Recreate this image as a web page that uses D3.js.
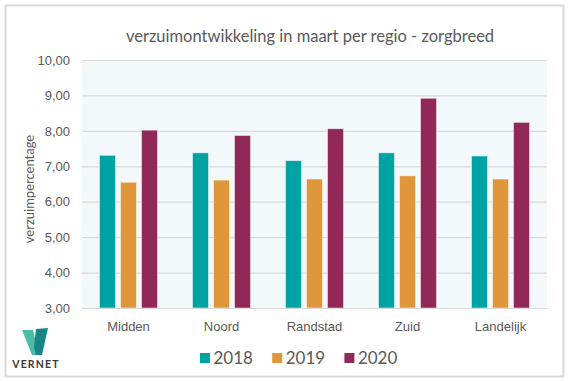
<!DOCTYPE html>
<html>
<head>
<meta charset="utf-8">
<script src="https://cdn.jsdelivr.net/npm/d3@7"></script>
<style>
  html, body { margin: 0; padding: 0; background: #fff; }
  svg { display: block; font-family: Lato, "Open Sans", "Liberation Sans", sans-serif; }
</style>
</head>
<body>
<svg id="chart" width="570" height="381"></svg>
<script>
const title = "verzuimontwikkeling in maart per regio - zorgbreed";
const yTitle = "verzuimpercentage";
const regions = ["Midden", "Noord", "Randstad", "Zuid", "Landelijk"];
const years = ["2018", "2019", "2020"];
const values2018 = [7.31, 7.38, 7.16, 7.38, 7.29];
const values2019 = [6.55, 6.61, 6.64, 6.73, 6.64];
const values2020 = [8.02, 7.87, 8.06, 8.92, 8.24];
const yTicks = [3, 4, 5, 6, 7, 8, 9, 10];
const colors = ["#00A3A4", "#E0963A", "#922857"];

const seriesValues = [values2018, values2019, values2020];
const table = regions.map((r, i) => ({
  region: r,
  vals: years.map((y, j) => ({ year: y, value: seriesValues[j][i], color: colors[j] }))
}));

const svg = d3.select("#chart");
const textColor = "#595959";

// outer border
svg.append("rect").attr("x", 5.5).attr("y", 5.5).attr("width", 558).attr("height", 371)
  .attr("fill", "#fff").attr("stroke", "#d9d9d9").attr("stroke-width", 2);

const plot = { left: 82, right: 547, top: 60, bottom: 308 };

// plot background
svg.append("rect").attr("x", plot.left).attr("y", plot.top)
  .attr("width", plot.right - plot.left).attr("height", plot.bottom - plot.top)
  .attr("fill", "#F3F8FB");

const x0 = d3.scaleBand().domain(regions).range([plot.left, plot.right])
  .paddingInner(0.376).paddingOuter(0.188);
const x1 = d3.scaleBand().domain(years).range([0, x0.bandwidth()]).paddingInner(0.238);
const y = d3.scaleLinear().domain([3, 10]).range([plot.bottom, plot.top]);

const locale = d3.formatLocale({ decimal: ",", thousands: ".", grouping: [3], currency: ["€", ""] });
const fmt = locale.format(".2f");

// grid + y axis
const yAxis = d3.axisLeft(y).tickValues(yTicks).tickFormat(fmt)
  .tickSize(-(plot.right - plot.left)).tickPadding(12);
const gy = svg.append("g").attr("transform", `translate(${plot.left},0)`).call(yAxis);
gy.select(".domain").remove();
gy.selectAll(".tick line").attr("stroke", "#d9d9d9").attr("stroke-width", 1.2);
gy.selectAll(".tick text").attr("fill", textColor).style("font-size", "13px");

// bars
const groups = svg.append("g").selectAll("g").data(table).join("g")
  .attr("transform", d => `translate(${x0(d.region)},0)`);
groups.selectAll("rect").data(d => d.vals).join("rect")
  .attr("x", d => x1(d.year))
  .attr("y", d => y(d.value))
  .attr("width", x1.bandwidth())
  .attr("height", d => y(3) - y(d.value))
  .attr("fill", d => d.color)
  .attr("stroke", "#ffffff").attr("stroke-opacity", 0.6).attr("stroke-width", 0.8);

// x axis
const xAxis = d3.axisBottom(x0).tickSize(0).tickPadding(14);
const gx = svg.append("g").attr("transform", `translate(0,${plot.bottom})`).call(xAxis);
gx.select(".domain").attr("stroke", "#d9d9d9").attr("stroke-width", 1.2);
gx.selectAll(".tick text").attr("fill", textColor).style("font-size", "13px");

// title
svg.append("text").attr("x", 310).attr("y", 42).attr("text-anchor", "middle")
  .attr("fill", textColor).style("font-size", "16.5px").text(title);

// y axis title
svg.append("text").attr("transform", "translate(34,189) rotate(-90)")
  .attr("text-anchor", "middle").attr("fill", textColor).style("font-size", "13px").text(yTitle);

// legend
const legend = svg.append("g").selectAll("g").data(years).join("g")
  .attr("transform", (d, i) => `translate(${200 + i * 72.2},358)`);
legend.append("rect").attr("x", 0).attr("y", -5).attr("width", 10).attr("height", 10)
  .attr("fill", (d, i) => colors[i]);
legend.append("text").attr("x", 13.5).attr("y", 0).attr("dy", "0.36em")
  .attr("fill", textColor).style("font-size", "17px").text(d => d);

// logo
const logo = svg.append("g");
logo.append("path").attr("d", "M22,330 L33,330 L39,355 L32,355 Z").attr("fill", "#4DBCA6");
logo.append("path").attr("d", "M36,329 L48,328 L42,355 L36,355 L34,347 Z").attr("fill", "#178485");
logo.append("text").attr("x", 36).attr("y", 368).attr("text-anchor", "middle")
  .attr("fill", "#3a3a3a").style("font-size", "10.5px").style("font-weight", "bold")
  .style("letter-spacing", "1.2px").text("VERNET");
</script>
</body>
</html>
